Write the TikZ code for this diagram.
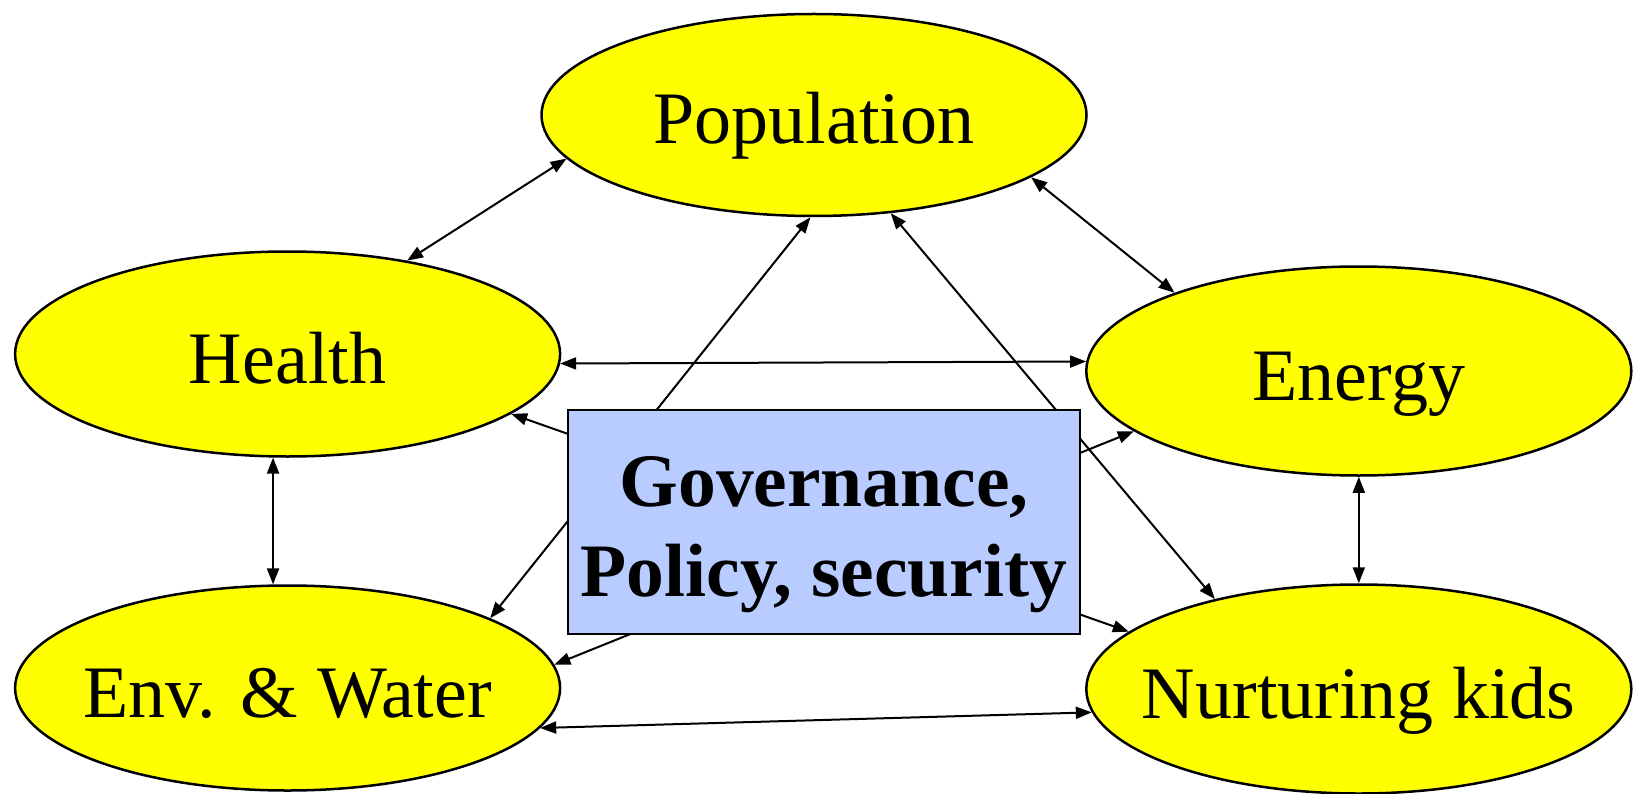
\documentclass[tikz,border=0pt]{standalone}
\usepackage{fontspec}
\setmainfont{Liberation Serif}
\usetikzlibrary{shapes.geometric,arrows.meta}
\definecolor{ellfill}{RGB}{255,255,0}
\definecolor{boxfill}{RGB}{185,204,255}
\tikzset{
  topic/.style={ellipse, draw=black, line width=2.5pt, fill=ellfill, inner sep=0pt,
    minimum width=545pt, minimum height=205pt,
    font=\fontsize{74}{88}\selectfont, text height=58pt, text depth=0pt},
  link/.style={line width=2pt, {Triangle[length=16pt,width=12pt]}-{Triangle[length=16pt,width=12pt]}},
  govbox/.style={rectangle, draw=black, line width=2.5pt, fill=boxfill, inner sep=0pt,
    minimum width=512pt, minimum height=224pt, align=center,
    font=\fontsize{75.5}{90}\selectfont\bfseries, text height=170pt, text depth=22pt}
}
\begin{document}
\begin{tikzpicture}[x=1pt,y=-1pt]
\useasboundingbox (0,0) rectangle (1637,794);
\node[topic, minimum height=202pt] (P) at (814,115) {\makebox[0pt]{Population}};
\node[topic] (H) at (287.6,354) {\makebox[0pt]{Health}};
\node[topic, minimum height=209pt] (E) at (1358.8,371) {\makebox[0pt]{Energy}};
\node[topic] (W) at (287.6,688) {\makebox[0pt]{Env. \& Water}};
\node[topic, minimum height=209pt] (N) at (1358.8,689) {\makebox[0pt]{Nurturing kids}};
\draw[link] (P.190) -- (H.38);
\draw[link] (P.344) -- (E.157);
\draw[link] (H.-2) -- (E.178);
\draw[link] (H.262) -- (W.98);
\draw[link] (E.south) -- (N.north);
\draw[link] (W.-9) -- (N.185.8);
\draw[link] (P.268) -- (W.19);
\draw[link] (P.308) -- (N.148);
\draw[link] (H.345) -- (N.166);
\draw[link] (W.5.5) -- (E.195);
\node[govbox] (G) at (824,522) {Governance,\\Policy, security};
\end{tikzpicture}
\end{document}
